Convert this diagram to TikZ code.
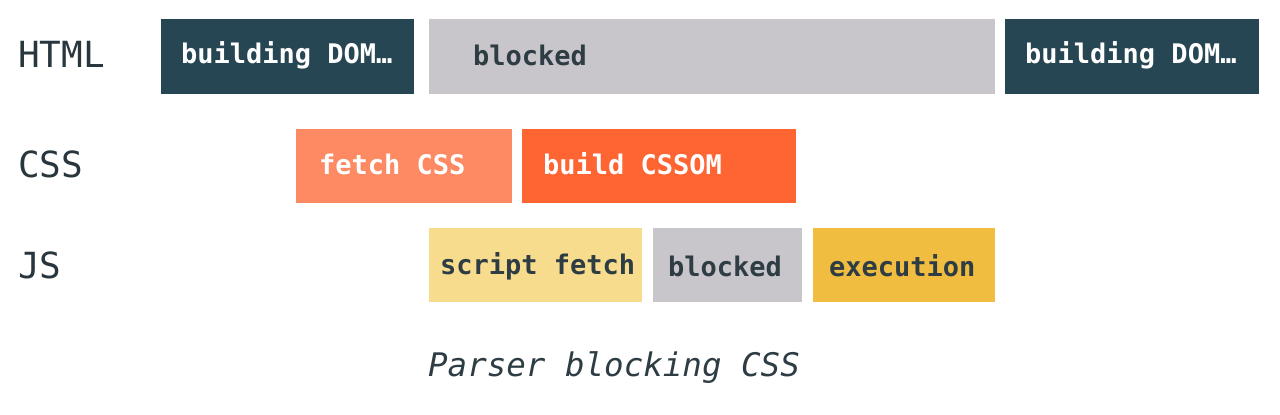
\documentclass[tikz,border=0pt]{standalone}
\usepackage{fontspec}
\setmonofont{DejaVu Sans Mono}
\definecolor{dom}{HTML}{264653}
\definecolor{gry}{HTML}{C8C6CA}
\definecolor{fcss}{HTML}{FE8A63}
\definecolor{bcss}{HTML}{FE6532}
\definecolor{sfet}{HTML}{F6DC8C}
\definecolor{exec}{HTML}{F0BD41}
\definecolor{ink}{HTML}{2E3C44}
\begin{document}
\begin{tikzpicture}[x=1pt,y=-1pt,
  btxt/.style={anchor=west,inner sep=0pt,font=\fontsize{27}{29}\selectfont\ttfamily\bfseries},
  rowlab/.style={anchor=west,inner sep=0pt,text=ink!90!black,font=\fontsize{36}{38}\selectfont\ttfamily}]
\useasboundingbox (0,0) rectangle (1280,415);
% HTML row
\fill[dom] (161,19) rectangle (414,94);
\fill[gry] (429,19) rectangle (995,94);
\fill[dom] (1005,19) rectangle (1259,94);
\node[rowlab] (lhtml) at (18,54) {HTML};
\node[btxt,text=white] (d1) at (181,55) {building DOM…};
\node[btxt,text=ink] (b1) at (473,55) {blocked};
\node[btxt,text=white] (d2) at (1025,55) {building DOM…};
% CSS row
\fill[fcss] (296,129) rectangle (512,203);
\fill[bcss] (522,129) rectangle (796,203);
\node[rowlab] (lcss) at (18,164) {CSS};
\node[btxt,text=white] (fc) at (319,164) {fetch CSS};
\node[btxt,text=white] (bc) at (543,164) {build CSSOM};
% JS row
\fill[sfet] (429,228) rectangle (642,302);
\fill[gry] (653,228) rectangle (802,302);
\fill[exec] (813,228) rectangle (995,302);
\node[rowlab] (ljs) at (18,265) {JS};
\node[btxt,text=ink] (sf) at (440,266) {script fetch};
\node[btxt,text=ink] (b2) at (668,266) {blocked};
\node[btxt,text=ink] (ex) at (829,266) {execution};
% caption
\node[inner sep=0pt,text=ink,font=\fontsize{32.5}{34}\selectfont\ttfamily\itshape] (cap) at (614,368) {Parser blocking CSS};
\end{tikzpicture}
\end{document}
